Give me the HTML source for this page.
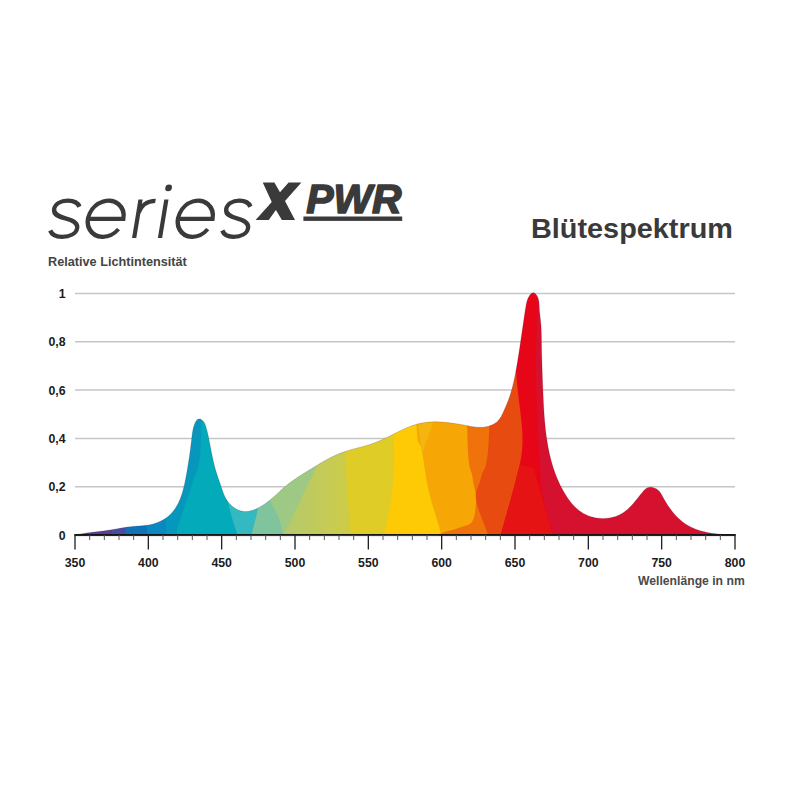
<!DOCTYPE html>
<html><head><meta charset="utf-8">
<style>
html,body{margin:0;padding:0;background:#fff;}
body{width:800px;height:800px;position:relative;overflow:hidden;font-family:"Liberation Sans",sans-serif;}
svg{position:absolute;left:0;top:0;}
.t{position:absolute;white-space:nowrap;font-weight:bold;transform-origin:0 0;line-height:1;}
</style></head><body>
<svg width="800" height="800" viewBox="0 0 800 800">
<defs>
<linearGradient id="spec" gradientUnits="userSpaceOnUse" x1="75" y1="0" x2="735" y2="0"><stop offset="0.0000" stop-color="#5d3c8e"/><stop offset="0.0606" stop-color="#4f4596"/><stop offset="0.0909" stop-color="#34529f"/><stop offset="0.1136" stop-color="#1f66ad"/><stop offset="0.1439" stop-color="#1a85b6"/><stop offset="0.1818" stop-color="#0e9db5"/><stop offset="0.2273" stop-color="#14a8b8"/><stop offset="0.2500" stop-color="#38b4bd"/><stop offset="0.2773" stop-color="#6cbcae"/><stop offset="0.3030" stop-color="#98c38c"/><stop offset="0.3409" stop-color="#b9c766"/><stop offset="0.3864" stop-color="#c9c94e"/><stop offset="0.4318" stop-color="#d8ca3a"/><stop offset="0.4697" stop-color="#e9c924"/><stop offset="0.4924" stop-color="#fac80a"/><stop offset="0.5227" stop-color="#f5b20c"/><stop offset="0.5530" stop-color="#f4a510"/><stop offset="0.5909" stop-color="#f29a12"/><stop offset="0.5985" stop-color="#ee7d12"/><stop offset="0.6318" stop-color="#e85e19"/><stop offset="0.6742" stop-color="#e8351a"/><stop offset="0.6818" stop-color="#e3061d"/><stop offset="0.7348" stop-color="#e0101e"/><stop offset="0.7955" stop-color="#d6102f"/><stop offset="1.0076" stop-color="#d40f35"/></linearGradient>
<clipPath id="clip"><path d="M75.00,535.00 L75.75,534.85 L76.50,534.70 L77.25,534.55 L78.00,534.41 L78.75,534.27 L79.50,534.14 L80.25,534.01 L81.00,533.88 L81.76,533.76 L82.51,533.64 L83.26,533.52 L84.01,533.41 L84.76,533.29 L85.52,533.18 L86.27,533.08 L87.02,532.97 L87.77,532.87 L88.53,532.77 L89.28,532.67 L90.03,532.57 L90.79,532.47 L91.54,532.37 L92.29,532.28 L93.05,532.19 L93.80,532.09 L94.56,532.00 L95.31,531.91 L96.06,531.82 L96.82,531.72 L97.57,531.63 L98.33,531.54 L99.08,531.45 L99.84,531.35 L100.59,531.26 L101.34,531.17 L102.10,531.07 L102.85,530.97 L103.61,530.88 L104.36,530.78 L105.12,530.68 L105.87,530.57 L106.63,530.47 L107.38,530.36 L108.14,530.26 L108.89,530.14 L109.65,530.03 L110.40,529.92 L111.16,529.80 L111.91,529.67 L112.67,529.55 L113.42,529.42 L114.17,529.29 L114.93,529.16 L115.68,529.03 L116.44,528.90 L117.19,528.77 L117.95,528.63 L118.70,528.50 L119.45,528.36 L120.21,528.23 L120.96,528.10 L121.72,527.97 L122.47,527.84 L123.22,527.71 L123.98,527.59 L124.73,527.47 L125.48,527.35 L126.24,527.23 L126.99,527.12 L127.74,527.01 L128.49,526.91 L129.25,526.81 L130.00,526.72 L130.75,526.63 L131.50,526.55 L132.25,526.47 L133.01,526.40 L133.76,526.34 L134.51,526.28 L135.26,526.22 L136.01,526.16 L136.76,526.11 L137.51,526.06 L138.26,526.01 L139.01,525.96 L139.76,525.91 L140.51,525.86 L141.26,525.80 L142.01,525.74 L142.76,525.68 L143.51,525.61 L144.25,525.54 L145.00,525.46 L145.75,525.37 L146.50,525.28 L147.25,525.18 L148.00,525.06 L148.75,524.94 L149.49,524.81 L150.24,524.66 L150.99,524.50 L151.74,524.33 L152.49,524.15 L153.23,523.95 L153.98,523.73 L154.73,523.51 L155.47,523.26 L156.21,523.01 L156.95,522.74 L157.68,522.45 L158.41,522.15 L159.13,521.84 L159.85,521.52 L160.56,521.18 L161.26,520.83 L161.96,520.47 L162.64,520.09 L163.32,519.71 L163.99,519.31 L164.65,518.90 L165.29,518.47 L165.93,518.04 L166.55,517.59 L167.16,517.14 L167.75,516.67 L168.34,516.19 L168.90,515.70 L169.46,515.20 L170.00,514.69 L170.54,514.17 L171.05,513.64 L171.56,513.10 L172.06,512.55 L172.54,511.99 L173.01,511.42 L173.47,510.84 L173.92,510.26 L174.36,509.67 L174.79,509.06 L175.21,508.45 L175.61,507.84 L176.01,507.21 L176.40,506.58 L176.77,505.94 L177.14,505.29 L177.50,504.64 L177.85,503.98 L178.19,503.31 L178.52,502.64 L178.84,501.96 L179.15,501.28 L179.46,500.59 L179.76,499.89 L180.05,499.19 L180.33,498.49 L180.60,497.78 L180.87,497.06 L181.13,496.34 L181.38,495.62 L181.63,494.89 L181.87,494.16 L182.11,493.43 L182.33,492.69 L182.55,491.95 L182.77,491.20 L182.98,490.46 L183.19,489.71 L183.39,488.96 L183.58,488.20 L183.77,487.45 L183.96,486.69 L184.14,485.93 L184.31,485.17 L184.49,484.41 L184.66,483.65 L184.82,482.89 L184.98,482.13 L185.14,481.36 L185.30,480.60 L185.45,479.84 L185.60,479.07 L185.75,478.31 L185.89,477.55 L186.04,476.79 L186.18,476.03 L186.32,475.27 L186.45,474.51 L186.59,473.76 L186.73,473.01 L186.86,472.25 L186.99,471.50 L187.12,470.75 L187.25,470.01 L187.38,469.26 L187.51,468.51 L187.63,467.77 L187.76,467.03 L187.88,466.28 L188.00,465.54 L188.13,464.80 L188.24,464.06 L188.36,463.32 L188.48,462.58 L188.60,461.84 L188.71,461.10 L188.82,460.36 L188.94,459.63 L189.05,458.89 L189.16,458.15 L189.27,457.41 L189.38,456.67 L189.48,455.93 L189.59,455.20 L189.69,454.46 L189.80,453.72 L189.90,452.98 L190.00,452.23 L190.10,451.49 L190.20,450.75 L190.30,450.01 L190.40,449.26 L190.50,448.52 L190.60,447.77 L190.69,447.02 L190.79,446.27 L190.88,445.52 L190.97,444.77 L191.06,444.02 L191.16,443.26 L191.25,442.51 L191.34,441.75 L191.43,440.99 L191.51,440.23 L191.60,439.47 L191.69,438.70 L191.77,437.93 L191.86,437.16 L191.95,436.39 L192.04,435.62 L192.13,434.85 L192.23,434.07 L192.34,433.30 L192.45,432.53 L192.57,431.76 L192.71,430.99 L192.85,430.22 L193.01,429.45 L193.18,428.69 L193.36,427.93 L193.56,427.17 L193.78,426.42 L194.02,425.67 L194.28,424.93 L194.56,424.19 L194.86,423.46 L195.19,422.73 L195.54,422.02 L195.92,421.34 L196.33,420.71 L196.78,420.15 L197.26,419.67 L197.78,419.30 L198.34,419.04 L198.94,418.93 L199.58,418.95 L200.23,419.10 L200.90,419.36 L201.55,419.72 L202.17,420.16 L202.75,420.68 L203.28,421.26 L203.76,421.89 L204.18,422.57 L204.56,423.28 L204.91,424.02 L205.22,424.79 L205.51,425.57 L205.77,426.35 L206.02,427.13 L206.25,427.91 L206.48,428.67 L206.69,429.43 L206.89,430.19 L207.09,430.93 L207.28,431.67 L207.46,432.41 L207.63,433.15 L207.80,433.88 L207.96,434.61 L208.12,435.33 L208.27,436.06 L208.42,436.78 L208.57,437.51 L208.71,438.24 L208.86,438.97 L209.00,439.70 L209.15,440.43 L209.29,441.16 L209.43,441.90 L209.57,442.64 L209.72,443.38 L209.86,444.12 L210.00,444.86 L210.14,445.60 L210.28,446.35 L210.43,447.09 L210.57,447.84 L210.71,448.58 L210.86,449.33 L211.00,450.08 L211.15,450.83 L211.30,451.58 L211.45,452.33 L211.60,453.08 L211.75,453.83 L211.90,454.58 L212.06,455.33 L212.21,456.08 L212.37,456.83 L212.53,457.58 L212.69,458.32 L212.86,459.07 L213.02,459.82 L213.19,460.57 L213.37,461.32 L213.54,462.06 L213.72,462.81 L213.90,463.55 L214.08,464.29 L214.27,465.04 L214.46,465.78 L214.65,466.52 L214.85,467.25 L215.05,467.99 L215.26,468.72 L215.46,469.46 L215.68,470.19 L215.89,470.92 L216.11,471.64 L216.34,472.37 L216.57,473.09 L216.80,473.82 L217.03,474.54 L217.26,475.26 L217.50,475.98 L217.74,476.70 L217.98,477.41 L218.23,478.13 L218.47,478.85 L218.71,479.57 L218.96,480.28 L219.21,481.00 L219.45,481.72 L219.70,482.43 L219.95,483.15 L220.19,483.87 L220.44,484.59 L220.68,485.31 L220.92,486.03 L221.16,486.75 L221.40,487.47 L221.64,488.20 L221.88,488.92 L222.13,489.64 L222.37,490.36 L222.62,491.08 L222.88,491.80 L223.14,492.51 L223.41,493.22 L223.69,493.93 L223.98,494.63 L224.28,495.33 L224.59,496.02 L224.92,496.71 L225.26,497.39 L225.62,498.06 L225.99,498.73 L226.38,499.39 L226.79,500.04 L227.22,500.68 L227.67,501.31 L228.14,501.93 L228.63,502.54 L229.14,503.14 L229.66,503.72 L230.20,504.29 L230.75,504.84 L231.32,505.38 L231.90,505.90 L232.50,506.40 L233.11,506.89 L233.73,507.35 L234.36,507.80 L235.00,508.22 L235.65,508.62 L236.32,509.00 L236.99,509.35 L237.67,509.68 L238.35,509.99 L239.04,510.26 L239.74,510.51 L240.44,510.74 L241.15,510.93 L241.86,511.09 L242.58,511.23 L243.29,511.33 L244.01,511.40 L244.73,511.44 L245.45,511.46 L246.18,511.45 L246.90,511.41 L247.63,511.34 L248.36,511.25 L249.08,511.14 L249.81,511.00 L250.53,510.84 L251.26,510.66 L251.98,510.46 L252.71,510.24 L253.43,510.00 L254.15,509.74 L254.86,509.46 L255.58,509.16 L256.29,508.85 L257.00,508.53 L257.70,508.18 L258.40,507.83 L259.10,507.46 L259.79,507.08 L260.48,506.69 L261.16,506.28 L261.84,505.87 L262.51,505.45 L263.18,505.02 L263.84,504.58 L264.49,504.14 L265.13,503.69 L265.77,503.23 L266.41,502.77 L267.03,502.31 L267.65,501.84 L268.26,501.36 L268.87,500.88 L269.48,500.40 L270.07,499.92 L270.67,499.43 L271.25,498.94 L271.84,498.44 L272.42,497.95 L273.00,497.45 L273.57,496.95 L274.14,496.44 L274.71,495.94 L275.27,495.43 L275.84,494.93 L276.40,494.42 L276.96,493.91 L277.52,493.41 L278.07,492.90 L278.63,492.39 L279.19,491.88 L279.74,491.38 L280.30,490.87 L280.85,490.37 L281.41,489.86 L281.97,489.36 L282.53,488.86 L283.09,488.37 L283.65,487.87 L284.22,487.38 L284.79,486.89 L285.36,486.40 L285.93,485.92 L286.51,485.44 L287.09,484.97 L287.67,484.50 L288.26,484.03 L288.86,483.57 L289.45,483.11 L290.05,482.66 L290.65,482.21 L291.26,481.76 L291.87,481.31 L292.48,480.87 L293.10,480.43 L293.72,480.00 L294.34,479.57 L294.96,479.14 L295.59,478.71 L296.22,478.29 L296.85,477.87 L297.49,477.45 L298.12,477.03 L298.76,476.61 L299.40,476.20 L300.04,475.79 L300.69,475.38 L301.33,474.97 L301.98,474.56 L302.63,474.15 L303.28,473.75 L303.93,473.34 L304.58,472.94 L305.23,472.54 L305.88,472.13 L306.54,471.73 L307.19,471.33 L307.84,470.93 L308.50,470.52 L309.15,470.12 L309.81,469.72 L310.47,469.31 L311.12,468.91 L311.78,468.51 L312.43,468.10 L313.09,467.70 L313.74,467.29 L314.40,466.89 L315.05,466.49 L315.71,466.09 L316.37,465.68 L317.03,465.28 L317.68,464.88 L318.34,464.49 L319.00,464.09 L319.66,463.69 L320.32,463.30 L320.98,462.91 L321.64,462.52 L322.31,462.13 L322.97,461.75 L323.63,461.36 L324.30,460.98 L324.97,460.61 L325.63,460.23 L326.30,459.86 L326.97,459.50 L327.65,459.13 L328.32,458.77 L328.99,458.41 L329.67,458.06 L330.35,457.71 L331.02,457.37 L331.70,457.03 L332.39,456.69 L333.07,456.36 L333.76,456.03 L334.44,455.71 L335.13,455.39 L335.82,455.08 L336.52,454.78 L337.21,454.48 L337.91,454.18 L338.61,453.89 L339.31,453.61 L340.01,453.34 L340.72,453.07 L341.43,452.80 L342.14,452.54 L342.85,452.29 L343.56,452.04 L344.28,451.80 L345.00,451.56 L345.72,451.33 L346.44,451.10 L347.16,450.88 L347.88,450.66 L348.61,450.44 L349.33,450.22 L350.06,450.01 L350.79,449.80 L351.52,449.60 L352.25,449.39 L352.98,449.19 L353.71,448.99 L354.45,448.79 L355.18,448.60 L355.91,448.40 L356.65,448.20 L357.38,448.01 L358.11,447.81 L358.85,447.62 L359.58,447.42 L360.32,447.22 L361.05,447.02 L361.78,446.82 L362.52,446.62 L363.25,446.42 L363.98,446.22 L364.72,446.01 L365.45,445.80 L366.18,445.59 L366.91,445.38 L367.63,445.16 L368.36,444.94 L369.09,444.71 L369.81,444.48 L370.54,444.25 L371.26,444.01 L371.98,443.77 L372.70,443.52 L373.42,443.27 L374.13,443.01 L374.85,442.74 L375.56,442.47 L376.27,442.20 L376.98,441.91 L377.68,441.62 L378.39,441.33 L379.09,441.03 L379.79,440.73 L380.49,440.42 L381.19,440.11 L381.89,439.80 L382.58,439.48 L383.28,439.15 L383.97,438.83 L384.67,438.50 L385.36,438.17 L386.05,437.83 L386.74,437.50 L387.43,437.16 L388.12,436.82 L388.80,436.47 L389.49,436.13 L390.18,435.79 L390.86,435.44 L391.55,435.09 L392.24,434.75 L392.92,434.40 L393.61,434.05 L394.29,433.71 L394.98,433.36 L395.66,433.02 L396.35,432.67 L397.03,432.33 L397.72,431.99 L398.40,431.65 L399.09,431.31 L399.78,430.98 L400.46,430.64 L401.15,430.31 L401.84,429.99 L402.53,429.66 L403.22,429.34 L403.91,429.03 L404.60,428.71 L405.29,428.41 L405.99,428.10 L406.68,427.80 L407.38,427.51 L408.08,427.22 L408.78,426.94 L409.48,426.66 L410.18,426.39 L410.88,426.12 L411.59,425.86 L412.29,425.61 L413.00,425.36 L413.71,425.12 L414.42,424.89 L415.14,424.66 L415.85,424.45 L416.57,424.24 L417.29,424.04 L418.01,423.85 L418.74,423.66 L419.47,423.49 L420.19,423.33 L420.93,423.17 L421.66,423.02 L422.40,422.89 L423.14,422.76 L423.88,422.64 L424.62,422.53 L425.37,422.43 L426.11,422.33 L426.86,422.25 L427.61,422.17 L428.37,422.10 L429.12,422.04 L429.88,421.98 L430.63,421.94 L431.39,421.90 L432.15,421.87 L432.91,421.84 L433.68,421.82 L434.44,421.81 L435.20,421.81 L435.97,421.81 L436.74,421.82 L437.50,421.83 L438.27,421.85 L439.04,421.88 L439.81,421.91 L440.58,421.95 L441.35,421.99 L442.12,422.04 L442.89,422.10 L443.66,422.16 L444.44,422.22 L445.21,422.29 L445.98,422.36 L446.75,422.44 L447.52,422.52 L448.29,422.61 L449.06,422.70 L449.83,422.80 L450.60,422.89 L451.37,423.00 L452.14,423.10 L452.91,423.21 L453.68,423.32 L454.44,423.44 L455.21,423.56 L455.97,423.68 L456.74,423.80 L457.50,423.93 L458.26,424.06 L459.02,424.19 L459.78,424.32 L460.54,424.45 L461.29,424.59 L462.05,424.73 L462.80,424.87 L463.55,425.01 L464.30,425.15 L465.05,425.30 L465.79,425.44 L466.54,425.58 L467.28,425.73 L468.02,425.87 L468.76,426.01 L469.49,426.15 L470.23,426.28 L470.97,426.41 L471.70,426.54 L472.43,426.66 L473.17,426.77 L473.90,426.87 L474.63,426.97 L475.37,427.05 L476.10,427.13 L476.83,427.19 L477.57,427.25 L478.30,427.29 L479.04,427.32 L479.77,427.33 L480.51,427.33 L481.25,427.31 L481.99,427.28 L482.73,427.23 L483.47,427.16 L484.21,427.08 L484.96,426.97 L485.71,426.85 L486.46,426.70 L487.21,426.53 L487.97,426.34 L488.72,426.13 L489.48,425.89 L490.25,425.62 L491.01,425.33 L491.77,425.02 L492.52,424.68 L493.26,424.32 L493.98,423.93 L494.67,423.52 L495.34,423.09 L495.97,422.63 L496.57,422.16 L497.14,421.66 L497.68,421.14 L498.20,420.61 L498.69,420.05 L499.15,419.48 L499.59,418.90 L500.02,418.30 L500.42,417.69 L500.81,417.06 L501.18,416.43 L501.54,415.78 L501.89,415.12 L502.22,414.46 L502.55,413.79 L502.87,413.11 L503.19,412.42 L503.50,411.74 L503.81,411.04 L504.11,410.35 L504.42,409.65 L504.73,408.96 L505.04,408.26 L505.34,407.56 L505.65,406.86 L505.95,406.15 L506.25,405.45 L506.55,404.74 L506.85,404.03 L507.14,403.32 L507.43,402.61 L507.71,401.90 L507.99,401.18 L508.27,400.47 L508.53,399.75 L508.80,399.03 L509.06,398.31 L509.31,397.59 L509.56,396.87 L509.80,396.14 L510.04,395.42 L510.27,394.69 L510.50,393.96 L510.73,393.23 L510.95,392.50 L511.16,391.77 L511.38,391.04 L511.58,390.31 L511.79,389.57 L511.99,388.84 L512.18,388.10 L512.38,387.36 L512.57,386.63 L512.75,385.89 L512.93,385.15 L513.11,384.41 L513.29,383.67 L513.46,382.93 L513.63,382.19 L513.80,381.44 L513.96,380.70 L514.12,379.96 L514.28,379.21 L514.44,378.47 L514.59,377.72 L514.75,376.97 L514.90,376.23 L515.04,375.48 L515.19,374.74 L515.33,373.99 L515.48,373.24 L515.62,372.49 L515.76,371.75 L515.90,371.00 L516.03,370.25 L516.17,369.50 L516.30,368.75 L516.44,368.01 L516.57,367.26 L516.70,366.51 L516.83,365.76 L516.96,365.01 L517.09,364.26 L517.22,363.51 L517.34,362.76 L517.47,362.02 L517.59,361.27 L517.72,360.52 L517.84,359.77 L517.96,359.02 L518.08,358.27 L518.20,357.52 L518.32,356.77 L518.44,356.02 L518.56,355.27 L518.68,354.52 L518.80,353.77 L518.91,353.02 L519.03,352.27 L519.15,351.52 L519.26,350.77 L519.37,350.02 L519.49,349.27 L519.60,348.52 L519.71,347.77 L519.83,347.01 L519.94,346.26 L520.05,345.51 L520.16,344.76 L520.27,344.01 L520.38,343.26 L520.49,342.51 L520.60,341.75 L520.71,341.00 L520.82,340.25 L520.93,339.50 L521.04,338.74 L521.15,337.99 L521.26,337.24 L521.37,336.49 L521.48,335.73 L521.59,334.98 L521.69,334.23 L521.80,333.47 L521.91,332.72 L522.02,331.97 L522.13,331.21 L522.24,330.46 L522.35,329.70 L522.46,328.95 L522.57,328.19 L522.68,327.44 L522.79,326.68 L522.90,325.93 L523.01,325.17 L523.12,324.42 L523.23,323.66 L523.34,322.91 L523.45,322.15 L523.56,321.40 L523.67,320.64 L523.79,319.88 L523.90,319.13 L524.01,318.37 L524.13,317.61 L524.24,316.86 L524.36,316.10 L524.47,315.34 L524.59,314.58 L524.71,313.83 L524.82,313.07 L524.94,312.31 L525.06,311.55 L525.18,310.79 L525.30,310.03 L525.42,309.27 L525.54,308.51 L525.67,307.76 L525.79,307.00 L525.91,306.24 L526.05,305.48 L526.18,304.72 L526.33,303.97 L526.49,303.21 L526.66,302.47 L526.85,301.72 L527.06,300.98 L527.30,300.25 L527.55,299.52 L527.84,298.80 L528.15,298.09 L528.49,297.38 L528.87,296.68 L529.29,296.00 L529.74,295.32 L530.23,294.69 L530.75,294.11 L531.29,293.60 L531.85,293.20 L532.42,292.92 L533.01,292.79 L533.60,292.82 L534.19,293.00 L534.77,293.32 L535.33,293.76 L535.87,294.28 L536.37,294.88 L536.83,295.53 L537.24,296.22 L537.59,296.93 L537.90,297.65 L538.16,298.39 L538.39,299.15 L538.57,299.91 L538.72,300.69 L538.85,301.48 L538.95,302.28 L539.03,303.08 L539.09,303.88 L539.14,304.68 L539.18,305.49 L539.22,306.29 L539.26,307.09 L539.30,307.88 L539.35,308.67 L539.40,309.44 L539.46,310.22 L539.52,310.98 L539.59,311.75 L539.66,312.50 L539.74,313.26 L539.82,314.01 L539.90,314.75 L539.98,315.50 L540.06,316.24 L540.15,316.98 L540.23,317.72 L540.31,318.45 L540.40,319.19 L540.48,319.93 L540.56,320.66 L540.63,321.40 L540.71,322.14 L540.78,322.88 L540.85,323.63 L540.91,324.37 L540.97,325.12 L541.02,325.87 L541.07,326.63 L541.11,327.39 L541.16,328.15 L541.19,328.91 L541.23,329.67 L541.26,330.44 L541.28,331.21 L541.31,331.98 L541.33,332.75 L541.35,333.52 L541.37,334.30 L541.39,335.07 L541.40,335.85 L541.41,336.62 L541.42,337.40 L541.44,338.17 L541.45,338.95 L541.46,339.72 L541.47,340.50 L541.48,341.27 L541.49,342.04 L541.50,342.81 L541.51,343.58 L541.52,344.35 L541.53,345.12 L541.54,345.89 L541.56,346.66 L541.57,347.42 L541.58,348.19 L541.60,348.95 L541.61,349.72 L541.63,350.48 L541.64,351.24 L541.66,352.01 L541.68,352.77 L541.69,353.53 L541.71,354.29 L541.73,355.04 L541.75,355.80 L541.76,356.56 L541.78,357.32 L541.80,358.07 L541.82,358.83 L541.84,359.59 L541.86,360.34 L541.88,361.10 L541.90,361.85 L541.92,362.61 L541.95,363.36 L541.97,364.11 L541.99,364.87 L542.01,365.62 L542.04,366.37 L542.06,367.12 L542.08,367.88 L542.11,368.63 L542.13,369.38 L542.15,370.13 L542.18,370.88 L542.20,371.64 L542.23,372.39 L542.26,373.14 L542.28,373.89 L542.31,374.64 L542.33,375.39 L542.36,376.14 L542.39,376.90 L542.42,377.65 L542.44,378.40 L542.47,379.15 L542.50,379.91 L542.53,380.66 L542.56,381.41 L542.58,382.16 L542.61,382.92 L542.64,383.67 L542.67,384.43 L542.70,385.18 L542.73,385.94 L542.76,386.69 L542.79,387.45 L542.82,388.20 L542.85,388.96 L542.88,389.72 L542.91,390.48 L542.94,391.23 L542.98,391.99 L543.01,392.75 L543.04,393.51 L543.07,394.27 L543.10,395.04 L543.14,395.80 L543.17,396.56 L543.20,397.32 L543.24,398.08 L543.27,398.85 L543.31,399.61 L543.35,400.37 L543.38,401.14 L543.42,401.90 L543.46,402.67 L543.50,403.43 L543.54,404.20 L543.58,404.96 L543.62,405.73 L543.66,406.49 L543.70,407.26 L543.75,408.03 L543.79,408.79 L543.84,409.56 L543.88,410.33 L543.93,411.09 L543.98,411.86 L544.03,412.63 L544.08,413.39 L544.14,414.16 L544.19,414.93 L544.25,415.69 L544.30,416.46 L544.36,417.23 L544.42,417.99 L544.48,418.76 L544.54,419.53 L544.61,420.29 L544.67,421.06 L544.74,421.82 L544.81,422.59 L544.88,423.35 L544.95,424.12 L545.02,424.88 L545.10,425.65 L545.18,426.41 L545.25,427.18 L545.33,427.94 L545.42,428.70 L545.50,429.47 L545.59,430.23 L545.68,430.99 L545.77,431.75 L545.86,432.51 L545.95,433.28 L546.05,434.04 L546.15,434.80 L546.25,435.56 L546.35,436.31 L546.46,437.07 L546.57,437.83 L546.68,438.59 L546.79,439.34 L546.91,440.10 L547.02,440.86 L547.14,441.61 L547.26,442.36 L547.39,443.12 L547.52,443.87 L547.65,444.62 L547.78,445.37 L547.91,446.12 L548.05,446.87 L548.19,447.62 L548.34,448.37 L548.48,449.12 L548.63,449.86 L548.78,450.61 L548.94,451.35 L549.10,452.10 L549.26,452.84 L549.42,453.58 L549.59,454.32 L549.76,455.06 L549.93,455.80 L550.11,456.54 L550.29,457.27 L550.47,458.01 L550.66,458.74 L550.85,459.47 L551.04,460.21 L551.24,460.94 L551.44,461.67 L551.64,462.40 L551.84,463.12 L552.05,463.85 L552.27,464.58 L552.48,465.30 L552.71,466.02 L552.93,466.74 L553.16,467.46 L553.39,468.18 L553.62,468.90 L553.86,469.61 L554.11,470.33 L554.35,471.04 L554.60,471.75 L554.86,472.46 L555.12,473.17 L555.38,473.88 L555.65,474.59 L555.92,475.29 L556.19,475.99 L556.47,476.69 L556.75,477.39 L557.04,478.09 L557.33,478.79 L557.63,479.48 L557.93,480.18 L558.23,480.87 L558.54,481.56 L558.85,482.25 L559.17,482.93 L559.49,483.62 L559.82,484.30 L560.15,484.98 L560.48,485.66 L560.82,486.34 L561.17,487.01 L561.52,487.69 L561.87,488.36 L562.23,489.03 L562.59,489.70 L562.96,490.37 L563.34,491.03 L563.71,491.69 L564.10,492.35 L564.49,493.01 L564.88,493.67 L565.28,494.32 L565.68,494.97 L566.09,495.62 L566.50,496.27 L566.92,496.91 L567.35,497.55 L567.78,498.18 L568.22,498.81 L568.66,499.43 L569.11,500.05 L569.57,500.67 L570.03,501.27 L570.50,501.88 L570.97,502.47 L571.45,503.06 L571.94,503.64 L572.44,504.22 L572.94,504.79 L573.45,505.35 L573.97,505.90 L574.49,506.44 L575.02,506.98 L575.56,507.50 L576.11,508.02 L576.66,508.53 L577.22,509.02 L577.79,509.51 L578.37,509.99 L578.96,510.46 L579.56,510.91 L580.16,511.36 L580.77,511.79 L581.39,512.21 L582.02,512.62 L582.66,513.01 L583.31,513.40 L583.97,513.77 L584.63,514.12 L585.31,514.47 L586.00,514.80 L586.69,515.11 L587.39,515.41 L588.10,515.70 L588.82,515.97 L589.55,516.23 L590.28,516.47 L591.02,516.71 L591.77,516.92 L592.52,517.12 L593.28,517.31 L594.04,517.48 L594.81,517.64 L595.58,517.79 L596.35,517.92 L597.13,518.03 L597.91,518.14 L598.69,518.22 L599.48,518.30 L600.26,518.35 L601.05,518.40 L601.84,518.43 L602.63,518.44 L603.41,518.44 L604.20,518.42 L604.99,518.39 L605.77,518.35 L606.55,518.29 L607.33,518.22 L608.11,518.13 L608.89,518.02 L609.66,517.90 L610.42,517.77 L611.18,517.62 L611.94,517.46 L612.69,517.28 L613.44,517.09 L614.18,516.88 L614.91,516.65 L615.64,516.41 L616.36,516.16 L617.07,515.89 L617.77,515.61 L618.47,515.31 L619.15,514.99 L619.82,514.66 L620.49,514.32 L621.14,513.96 L621.79,513.58 L622.43,513.19 L623.05,512.79 L623.67,512.38 L624.28,511.95 L624.88,511.51 L625.47,511.06 L626.06,510.59 L626.63,510.12 L627.20,509.63 L627.76,509.14 L628.32,508.63 L628.87,508.12 L629.41,507.60 L629.94,507.07 L630.47,506.53 L631.00,505.99 L631.51,505.44 L632.03,504.88 L632.53,504.32 L633.04,503.75 L633.54,503.18 L634.03,502.61 L634.52,502.03 L635.01,501.44 L635.49,500.86 L635.97,500.27 L636.45,499.68 L636.93,499.08 L637.40,498.48 L637.88,497.89 L638.36,497.29 L638.83,496.68 L639.31,496.08 L639.80,495.47 L640.28,494.86 L640.77,494.25 L641.26,493.64 L641.76,493.03 L642.27,492.42 L642.78,491.81 L643.30,491.20 L643.84,490.60 L644.38,490.03 L644.95,489.49 L645.53,489.00 L646.14,488.55 L646.78,488.16 L647.45,487.85 L648.14,487.60 L648.86,487.42 L649.59,487.31 L650.34,487.26 L651.10,487.27 L651.86,487.35 L652.62,487.47 L653.38,487.65 L654.12,487.88 L654.85,488.16 L655.56,488.48 L656.25,488.85 L656.91,489.25 L657.53,489.69 L658.11,490.17 L658.66,490.68 L659.17,491.22 L659.65,491.79 L660.11,492.38 L660.54,492.99 L660.95,493.62 L661.35,494.26 L661.73,494.92 L662.10,495.58 L662.47,496.26 L662.83,496.93 L663.20,497.61 L663.57,498.29 L663.95,498.96 L664.33,499.63 L664.71,500.30 L665.10,500.97 L665.50,501.64 L665.90,502.30 L666.30,502.96 L666.71,503.61 L667.12,504.27 L667.54,504.92 L667.97,505.56 L668.40,506.21 L668.83,506.85 L669.27,507.48 L669.72,508.11 L670.17,508.74 L670.62,509.36 L671.09,509.98 L671.55,510.59 L672.02,511.19 L672.50,511.79 L672.99,512.39 L673.47,512.98 L673.97,513.56 L674.47,514.14 L674.97,514.71 L675.49,515.28 L676.00,515.83 L676.53,516.38 L677.06,516.93 L677.59,517.47 L678.13,518.00 L678.68,518.52 L679.23,519.03 L679.79,519.54 L680.36,520.04 L680.93,520.53 L681.50,521.01 L682.09,521.48 L682.68,521.95 L683.27,522.40 L683.88,522.85 L684.49,523.28 L685.10,523.71 L685.72,524.13 L686.35,524.54 L686.99,524.93 L687.63,525.32 L688.28,525.70 L688.93,526.07 L689.59,526.42 L690.26,526.77 L690.93,527.11 L691.61,527.43 L692.30,527.75 L692.99,528.06 L693.68,528.36 L694.38,528.65 L695.09,528.93 L695.80,529.21 L696.51,529.47 L697.23,529.73 L697.95,529.97 L698.68,530.21 L699.41,530.45 L700.15,530.67 L700.88,530.89 L701.63,531.09 L702.37,531.29 L703.12,531.49 L703.87,531.67 L704.62,531.85 L705.38,532.03 L706.13,532.19 L706.89,532.35 L707.66,532.51 L708.42,532.65 L709.19,532.79 L709.95,532.93 L710.72,533.06 L711.49,533.18 L712.26,533.30 L713.03,533.41 L713.80,533.52 L714.58,533.62 L715.35,533.72 L716.12,533.81 L716.89,533.90 L717.67,533.98 L718.44,534.06 L719.21,534.14 L719.98,534.21 L720.75,534.28 L721.52,534.34 L722.28,534.40 L723.05,534.46 L723.81,534.51 L724.58,534.56 L725.34,534.60 L726.10,534.65 L726.85,534.69 L727.61,534.73 L728.36,534.76 L729.10,534.80 L729.85,534.83 L730.59,534.86 L731.33,534.89 L732.07,534.91 L732.80,534.94 L733.52,534.96 L734.25,534.98 L735.00,535.00 L735,536 L75,536 Z"/></clipPath>
</defs>
<g id="grid"><line x1="75" y1="293.50" x2="735" y2="293.50" stroke="#c6c6c6" stroke-width="1.5"/><line x1="75" y1="341.80" x2="735" y2="341.80" stroke="#c6c6c6" stroke-width="1.5"/><line x1="75" y1="390.10" x2="735" y2="390.10" stroke="#c6c6c6" stroke-width="1.5"/><line x1="75" y1="438.40" x2="735" y2="438.40" stroke="#c6c6c6" stroke-width="1.5"/><line x1="75" y1="486.70" x2="735" y2="486.70" stroke="#c6c6c6" stroke-width="1.5"/></g>
<g clip-path="url(#clip)"><g style="opacity:0.999"><defs><linearGradient id="gYG" gradientUnits="userSpaceOnUse" x1="290" y1="0" x2="345" y2="0"><stop offset="0" stop-color="#b6c96a"/><stop offset="1" stop-color="#cdcc4a"/></linearGradient></defs><polygon fill="#5b3d94" points="60,280 60,540 800,540 800,280"/><polygon fill="#4a4c9f" points="112,280 112,540 800,540 800,280"/><polygon fill="#1272b8" points="126,280 126,540 800,540 800,280"/><polygon fill="#0a88bf" points="147,280 147,540 800,540 800,280"/><polygon fill="#0598bc" points="166,280 166,540 800,540 800,280"/><polygon fill="#03aab9" points="199.0,280.0 199.13,288.1 199.34,298.75 199.62,311.47 199.93,325.78 200.25,341.2 200.56,357.25 200.85,373.45 201.07,389.33 201.23,404.41 201.28,418.19 201.21,430.22 201.0,440.0 200.63,447.81 200.1,454.35 199.45,459.77 198.7,464.22 197.88,467.87 197.0,470.88 196.09,473.38 195.19,475.56 194.3,477.55 193.45,479.51 192.68,481.61 192.0,484.0 191.4,486.39 190.85,488.42 190.34,490.16 189.85,491.67 189.39,492.99 188.94,494.19 188.49,495.32 188.04,496.44 187.57,497.62 187.08,498.9 186.56,500.34 186.0,502.0 185.38,503.88 184.71,505.9 184.0,508.04 183.26,510.26 182.5,512.53 181.75,514.81 181.01,517.08 180.3,519.3 179.62,521.43 179.01,523.45 178.46,525.31 178.0,527.0 177.62,528.54 177.3,530.01 177.03,531.4 176.81,532.7 176.64,533.93 176.5,535.06 176.39,536.11 176.3,537.07 176.22,537.95 176.15,538.72 176.08,539.41 176,540 800,540 800,280"/><polygon fill="#33b9bf" points="224.0,480.0 224.28,481.48 224.62,483.33 225.01,485.5 225.44,487.94 225.92,490.6 226.44,493.41 226.98,496.32 227.56,499.28 228.15,502.23 228.76,505.12 229.38,507.9 230.0,510.5 230.67,513.09 231.43,515.82 232.25,518.64 233.11,521.5 233.99,524.36 234.88,527.16 235.74,529.85 236.56,532.39 237.31,534.72 237.99,536.8 238.56,538.58 239,540 800,540 800,280"/><polygon fill="#80c49e" points="261.0,490.0 260.82,491.1 260.6,492.46 260.35,494.04 260.07,495.81 259.77,497.75 259.44,499.81 259.08,501.97 258.7,504.19 258.3,506.43 257.89,508.67 257.45,510.87 257.0,513.0 256.5,515.2 255.93,517.58 255.3,520.1 254.63,522.7 253.94,525.33 253.25,527.94 252.57,530.46 251.93,532.85 251.33,535.05 250.8,537.02 250.35,538.68 250,540 800,540 800,280"/><polygon fill="#9ec985" points="266.0,480.0 266.18,480.97 266.38,482.2 266.6,483.64 266.85,485.26 267.13,487.02 267.44,488.88 267.78,490.8 268.15,492.74 268.55,494.67 269.0,496.55 269.48,498.34 270.0,500.0 270.59,501.57 271.27,503.13 272.02,504.66 272.81,506.19 273.65,507.69 274.5,509.19 275.35,510.67 276.19,512.15 276.98,513.62 277.73,515.08 278.41,516.54 279.0,518.0 279.52,519.49 280.0,521.03 280.45,522.6 280.85,524.19 281.22,525.76 281.56,527.31 281.87,528.82 282.15,530.26 282.4,531.62 282.62,532.87 282.82,534.01 283.0,535.0 283.14,535.85 283.23,536.59 283.28,537.21 283.3,537.74 283.28,538.19 283.25,538.56 283.2,538.88 283.15,539.15 283.09,539.38 283.05,539.59 283.01,539.8 283,540 800,540 800,280"/><polygon fill="url(#gYG)" points="325.0,445.0 324.64,445.97 324.29,447.0 323.92,448.12 323.52,449.37 323.05,450.78 322.5,452.38 321.84,454.2 321.04,456.3 320.08,458.69 318.94,461.41 317.58,464.5 316.0,468.0 314.04,472.19 311.64,477.21 308.89,482.88 305.89,489.04 302.73,495.49 299.5,502.06 296.3,508.58 293.22,514.85 290.36,520.71 287.81,525.97 285.65,530.46 284.0,534.0 282.83,536.62 282.03,538.54 281.55,539.86 281.33,540.67 281.34,541.06 281.5,541.12 281.78,540.96 282.11,540.67 282.45,540.33 282.75,540.04 282.95,539.9 283,540 800,540 800,280"/><polygon fill="#dfcc26" points="345.0,280.0 344.98,287.92 344.93,298.1 344.86,310.16 344.78,323.7 344.7,338.36 344.62,353.75 344.57,369.48 344.56,385.19 344.58,400.47 344.65,414.95 344.79,428.26 345.0,440.0 345.31,450.75 345.72,461.3 346.22,471.56 346.78,481.48 347.38,490.98 348.0,500.0 348.62,508.46 349.22,516.3 349.78,523.44 350.28,529.81 350.69,535.36 351,540 800,540 800,280"/><polygon fill="#fdca05" points="393.0,280.0 393.06,287.7 393.14,297.76 393.24,309.74 393.35,323.22 393.47,337.76 393.59,352.94 393.71,368.31 393.81,383.44 393.9,397.91 393.97,411.28 394.0,423.12 394.0,433.0 393.98,441.16 393.96,448.23 393.94,454.35 393.91,459.67 393.86,464.32 393.78,468.44 393.68,472.17 393.54,475.67 393.36,479.05 393.13,482.48 392.84,486.08 392.5,490.0 392.06,494.13 391.52,498.26 390.89,502.35 390.2,506.37 389.47,510.29 388.72,514.06 387.97,517.67 387.24,521.07 386.56,524.24 385.94,527.14 385.42,529.74 385.0,532.0 384.69,533.88 384.45,535.39 384.27,536.58 384.15,537.48 384.07,538.15 384.03,538.62 384.02,538.96 384.02,539.19 384.03,539.36 384.03,539.52 384.03,539.72 384,540 800,540 800,280"/><polygon fill="#f6a706" points="416.5,280.0 416.48,287.34 416.44,297.04 416.38,308.65 416.31,321.72 416.23,335.79 416.17,350.41 416.13,365.11 416.11,379.44 416.13,392.96 416.2,405.19 416.32,415.69 416.5,424.0 416.75,430.23 417.05,434.93 417.41,438.36 417.81,440.72 418.24,442.27 418.7,443.22 419.19,443.81 419.69,444.28 420.21,444.85 420.73,445.75 421.24,447.23 421.75,449.5 422.24,452.35 422.73,455.36 423.21,458.54 423.69,461.83 424.19,465.24 424.7,468.72 425.24,472.26 425.81,475.83 426.41,479.42 427.05,482.99 427.75,486.52 428.5,490.0 429.35,493.56 430.33,497.31 431.4,501.19 432.54,505.15 433.71,509.12 434.89,513.03 436.05,516.83 437.16,520.46 438.19,523.86 439.1,526.95 439.89,529.69 440.5,532.0 440.95,533.88 441.25,535.39 441.45,536.58 441.54,537.48 441.55,538.15 441.5,538.62 441.41,538.96 441.3,539.19 441.18,539.36 441.08,539.52 441.01,539.72 441,540 800,540 800,280"/><polygon fill="#ef720a" points="467.0,280.0 467.01,288.12 467.0,298.83 466.98,311.62 466.96,326.02 466.95,341.53 466.94,357.66 466.95,373.92 466.98,389.81 467.05,404.86 467.15,418.57 467.3,430.45 467.5,440.0 467.76,447.46 468.09,453.52 468.47,458.36 468.89,462.17 469.34,465.12 469.81,467.41 470.3,469.21 470.78,470.72 471.25,472.12 471.7,473.59 472.12,475.33 472.5,477.5 472.87,479.85 473.25,482.0 473.64,483.99 474.04,485.83 474.42,487.57 474.78,489.22 475.11,490.82 475.41,492.39 475.65,493.96 475.84,495.57 475.96,497.24 476.0,499.0 475.98,500.87 475.93,502.82 475.83,504.83 475.69,506.87 475.49,508.92 475.25,510.94 474.95,512.91 474.59,514.8 474.17,516.58 473.69,518.22 473.13,519.71 472.5,521.0 471.8,522.08 471.02,522.98 470.18,523.71 469.28,524.31 468.31,524.81 467.28,525.22 466.2,525.58 465.06,525.91 463.86,526.24 462.62,526.6 461.33,527.01 460.0,527.5 458.53,528.04 456.87,528.59 455.06,529.14 453.15,529.69 451.19,530.23 449.22,530.78 447.3,531.33 445.46,531.87 443.77,532.41 442.26,532.95 440.99,533.48 440.0,534.0 439.3,534.54 438.84,535.1 438.59,535.68 438.52,536.26 438.58,536.84 438.75,537.41 438.99,537.95 439.26,538.46 439.53,538.93 439.77,539.35 439.94,539.71 440,540 800,540 800,280"/><polygon fill="#e84b10" points="491.0,280.0 490.91,288.12 490.82,298.83 490.72,311.62 490.62,326.02 490.5,341.53 490.36,357.66 490.19,373.92 489.99,389.81 489.75,404.86 489.47,418.57 489.14,430.45 488.75,440.0 488.29,447.46 487.74,453.52 487.13,458.36 486.47,462.17 485.77,465.12 485.05,467.41 484.31,469.21 483.58,470.72 482.87,472.12 482.2,473.59 481.57,475.33 481.0,477.5 480.43,479.81 479.82,481.86 479.17,483.69 478.52,485.36 477.89,486.92 477.3,488.42 476.77,489.91 476.34,491.44 476.03,493.07 475.85,494.84 475.83,496.8 476.0,499.0 476.42,501.52 477.09,504.35 477.97,507.42 479.02,510.66 480.18,513.98 481.41,517.33 482.65,520.62 483.87,523.79 485.01,526.76 486.03,529.45 486.87,531.81 487.5,533.75 487.93,535.29 488.23,536.51 488.41,537.46 488.5,538.18 488.51,538.69 488.47,539.05 488.38,539.28 488.28,539.44 488.17,539.54 488.07,539.65 488.01,539.79 488,540 800,540 800,280"/><polygon fill="#e60617" points="514.0,280.0 514.08,284.41 514.17,290.02 514.25,296.64 514.35,304.07 514.46,312.13 514.59,320.62 514.75,329.36 514.93,338.15 515.14,346.8 515.38,355.12 515.67,362.91 516.0,370.0 516.43,376.62 516.98,383.13 517.64,389.52 518.35,395.79 519.1,401.91 519.84,407.89 520.56,413.71 521.2,419.35 521.75,424.81 522.17,430.08 522.43,435.15 522.5,440.0 522.39,444.54 522.14,448.74 521.76,452.64 521.28,456.3 520.7,459.77 520.03,463.12 519.29,466.41 518.5,469.68 517.66,472.99 516.79,476.4 515.9,479.97 515.0,483.75 514.02,487.84 512.89,492.23 511.65,496.84 510.33,501.57 508.97,506.36 507.59,511.09 506.24,515.7 504.94,520.09 503.74,524.18 502.66,527.88 501.73,531.1 501.0,533.75 500.46,535.82 500.07,537.4 499.81,538.54 499.67,539.31 499.61,539.77 499.62,540.0 499.69,540.05 499.78,540.0 499.88,539.9 499.96,539.83 500.01,539.84 500,540 800,540 800,280"/><polygon fill="#d6102f" points="538.0,280.0 537.89,283.98 537.75,289.11 537.57,295.2 537.37,302.04 537.16,309.43 536.94,317.19 536.72,325.1 536.52,332.96 536.34,340.59 536.18,347.77 536.07,354.3 536.0,360.0 535.98,364.98 535.98,369.53 536.02,373.71 536.07,377.59 536.15,381.23 536.25,384.69 536.36,388.02 536.48,391.3 536.61,394.57 536.74,397.91 536.87,401.36 537.0,405.0 537.13,408.75 537.26,412.5 537.39,416.25 537.54,420.0 537.69,423.75 537.84,427.5 538.01,431.25 538.19,435.0 538.37,438.75 538.57,442.5 538.78,446.25 539.0,450.0 539.22,453.79 539.43,457.63 539.64,461.51 539.85,465.41 540.07,469.31 540.31,473.19 540.58,477.03 540.87,480.81 541.2,484.52 541.58,488.14 542.01,491.64 542.5,495.0 543.08,498.29 543.77,501.57 544.54,504.81 545.37,508.0 546.24,511.11 547.12,514.12 548.0,517.02 548.85,519.78 549.65,522.38 550.37,524.79 551.0,527.01 551.5,529.0 551.89,530.76 552.2,532.29 552.44,533.62 552.61,534.78 552.73,535.77 552.81,536.62 552.86,537.36 552.89,538.0 552.91,538.56 552.92,539.07 552.95,539.54 553,540 800,540 800,280"/><polygon fill="#f6b40e" fill-opacity="1.0" points="416.5,415 436,415 422.5,452.5 421.75,449.5"/><polygon fill="#e51313" fill-opacity="1.0" points="501,534 520,465 533.5,468 553,536 501,536"/></g></g>
<path d="M75.00,535.00 L75.75,534.85 L76.50,534.70 L77.25,534.55 L78.00,534.41 L78.75,534.27 L79.50,534.14 L80.25,534.01 L81.00,533.88 L81.76,533.76 L82.51,533.64 L83.26,533.52 L84.01,533.41 L84.76,533.29 L85.52,533.18 L86.27,533.08 L87.02,532.97 L87.77,532.87 L88.53,532.77 L89.28,532.67 L90.03,532.57 L90.79,532.47 L91.54,532.37 L92.29,532.28 L93.05,532.19 L93.80,532.09 L94.56,532.00 L95.31,531.91 L96.06,531.82 L96.82,531.72 L97.57,531.63 L98.33,531.54 L99.08,531.45 L99.84,531.35 L100.59,531.26 L101.34,531.17 L102.10,531.07 L102.85,530.97 L103.61,530.88 L104.36,530.78 L105.12,530.68 L105.87,530.57 L106.63,530.47 L107.38,530.36 L108.14,530.26 L108.89,530.14 L109.65,530.03 L110.40,529.92 L111.16,529.80 L111.91,529.67 L112.67,529.55 L113.42,529.42 L114.17,529.29 L114.93,529.16 L115.68,529.03 L116.44,528.90 L117.19,528.77 L117.95,528.63 L118.70,528.50 L119.45,528.36 L120.21,528.23 L120.96,528.10 L121.72,527.97 L122.47,527.84 L123.22,527.71 L123.98,527.59 L124.73,527.47 L125.48,527.35 L126.24,527.23 L126.99,527.12 L127.74,527.01 L128.49,526.91 L129.25,526.81 L130.00,526.72 L130.75,526.63 L131.50,526.55 L132.25,526.47 L133.01,526.40 L133.76,526.34 L134.51,526.28 L135.26,526.22 L136.01,526.16 L136.76,526.11 L137.51,526.06 L138.26,526.01 L139.01,525.96 L139.76,525.91 L140.51,525.86 L141.26,525.80 L142.01,525.74 L142.76,525.68 L143.51,525.61 L144.25,525.54 L145.00,525.46 L145.75,525.37 L146.50,525.28 L147.25,525.18 L148.00,525.06 L148.75,524.94 L149.49,524.81 L150.24,524.66 L150.99,524.50 L151.74,524.33 L152.49,524.15 L153.23,523.95 L153.98,523.73 L154.73,523.51 L155.47,523.26 L156.21,523.01 L156.95,522.74 L157.68,522.45 L158.41,522.15 L159.13,521.84 L159.85,521.52 L160.56,521.18 L161.26,520.83 L161.96,520.47 L162.64,520.09 L163.32,519.71 L163.99,519.31 L164.65,518.90 L165.29,518.47 L165.93,518.04 L166.55,517.59 L167.16,517.14 L167.75,516.67 L168.34,516.19 L168.90,515.70 L169.46,515.20 L170.00,514.69 L170.54,514.17 L171.05,513.64 L171.56,513.10 L172.06,512.55 L172.54,511.99 L173.01,511.42 L173.47,510.84 L173.92,510.26 L174.36,509.67 L174.79,509.06 L175.21,508.45 L175.61,507.84 L176.01,507.21 L176.40,506.58 L176.77,505.94 L177.14,505.29 L177.50,504.64 L177.85,503.98 L178.19,503.31 L178.52,502.64 L178.84,501.96 L179.15,501.28 L179.46,500.59 L179.76,499.89 L180.05,499.19 L180.33,498.49 L180.60,497.78 L180.87,497.06 L181.13,496.34 L181.38,495.62 L181.63,494.89 L181.87,494.16 L182.11,493.43 L182.33,492.69 L182.55,491.95 L182.77,491.20 L182.98,490.46 L183.19,489.71 L183.39,488.96 L183.58,488.20 L183.77,487.45 L183.96,486.69 L184.14,485.93 L184.31,485.17 L184.49,484.41 L184.66,483.65 L184.82,482.89 L184.98,482.13 L185.14,481.36 L185.30,480.60 L185.45,479.84 L185.60,479.07 L185.75,478.31 L185.89,477.55 L186.04,476.79 L186.18,476.03 L186.32,475.27 L186.45,474.51 L186.59,473.76 L186.73,473.01 L186.86,472.25 L186.99,471.50 L187.12,470.75 L187.25,470.01 L187.38,469.26 L187.51,468.51 L187.63,467.77 L187.76,467.03 L187.88,466.28 L188.00,465.54 L188.13,464.80 L188.24,464.06 L188.36,463.32 L188.48,462.58 L188.60,461.84 L188.71,461.10 L188.82,460.36 L188.94,459.63 L189.05,458.89 L189.16,458.15 L189.27,457.41 L189.38,456.67 L189.48,455.93 L189.59,455.20 L189.69,454.46 L189.80,453.72 L189.90,452.98 L190.00,452.23 L190.10,451.49 L190.20,450.75 L190.30,450.01 L190.40,449.26 L190.50,448.52 L190.60,447.77 L190.69,447.02 L190.79,446.27 L190.88,445.52 L190.97,444.77 L191.06,444.02 L191.16,443.26 L191.25,442.51 L191.34,441.75 L191.43,440.99 L191.51,440.23 L191.60,439.47 L191.69,438.70 L191.77,437.93 L191.86,437.16 L191.95,436.39 L192.04,435.62 L192.13,434.85 L192.23,434.07 L192.34,433.30 L192.45,432.53 L192.57,431.76 L192.71,430.99 L192.85,430.22 L193.01,429.45 L193.18,428.69 L193.36,427.93 L193.56,427.17 L193.78,426.42 L194.02,425.67 L194.28,424.93 L194.56,424.19 L194.86,423.46 L195.19,422.73 L195.54,422.02 L195.92,421.34 L196.33,420.71 L196.78,420.15 L197.26,419.67 L197.78,419.30 L198.34,419.04 L198.94,418.93 L199.58,418.95 L200.23,419.10 L200.90,419.36 L201.55,419.72 L202.17,420.16 L202.75,420.68 L203.28,421.26 L203.76,421.89 L204.18,422.57 L204.56,423.28 L204.91,424.02 L205.22,424.79 L205.51,425.57 L205.77,426.35 L206.02,427.13 L206.25,427.91 L206.48,428.67 L206.69,429.43 L206.89,430.19 L207.09,430.93 L207.28,431.67 L207.46,432.41 L207.63,433.15 L207.80,433.88 L207.96,434.61 L208.12,435.33 L208.27,436.06 L208.42,436.78 L208.57,437.51 L208.71,438.24 L208.86,438.97 L209.00,439.70 L209.15,440.43 L209.29,441.16 L209.43,441.90 L209.57,442.64 L209.72,443.38 L209.86,444.12 L210.00,444.86 L210.14,445.60 L210.28,446.35 L210.43,447.09 L210.57,447.84 L210.71,448.58 L210.86,449.33 L211.00,450.08 L211.15,450.83 L211.30,451.58 L211.45,452.33 L211.60,453.08 L211.75,453.83 L211.90,454.58 L212.06,455.33 L212.21,456.08 L212.37,456.83 L212.53,457.58 L212.69,458.32 L212.86,459.07 L213.02,459.82 L213.19,460.57 L213.37,461.32 L213.54,462.06 L213.72,462.81 L213.90,463.55 L214.08,464.29 L214.27,465.04 L214.46,465.78 L214.65,466.52 L214.85,467.25 L215.05,467.99 L215.26,468.72 L215.46,469.46 L215.68,470.19 L215.89,470.92 L216.11,471.64 L216.34,472.37 L216.57,473.09 L216.80,473.82 L217.03,474.54 L217.26,475.26 L217.50,475.98 L217.74,476.70 L217.98,477.41 L218.23,478.13 L218.47,478.85 L218.71,479.57 L218.96,480.28 L219.21,481.00 L219.45,481.72 L219.70,482.43 L219.95,483.15 L220.19,483.87 L220.44,484.59 L220.68,485.31 L220.92,486.03 L221.16,486.75 L221.40,487.47 L221.64,488.20 L221.88,488.92 L222.13,489.64 L222.37,490.36 L222.62,491.08 L222.88,491.80 L223.14,492.51 L223.41,493.22 L223.69,493.93 L223.98,494.63 L224.28,495.33 L224.59,496.02 L224.92,496.71 L225.26,497.39 L225.62,498.06 L225.99,498.73 L226.38,499.39 L226.79,500.04 L227.22,500.68 L227.67,501.31 L228.14,501.93 L228.63,502.54 L229.14,503.14 L229.66,503.72 L230.20,504.29 L230.75,504.84 L231.32,505.38 L231.90,505.90 L232.50,506.40 L233.11,506.89 L233.73,507.35 L234.36,507.80 L235.00,508.22 L235.65,508.62 L236.32,509.00 L236.99,509.35 L237.67,509.68 L238.35,509.99 L239.04,510.26 L239.74,510.51 L240.44,510.74 L241.15,510.93 L241.86,511.09 L242.58,511.23 L243.29,511.33 L244.01,511.40 L244.73,511.44 L245.45,511.46 L246.18,511.45 L246.90,511.41 L247.63,511.34 L248.36,511.25 L249.08,511.14 L249.81,511.00 L250.53,510.84 L251.26,510.66 L251.98,510.46 L252.71,510.24 L253.43,510.00 L254.15,509.74 L254.86,509.46 L255.58,509.16 L256.29,508.85 L257.00,508.53 L257.70,508.18 L258.40,507.83 L259.10,507.46 L259.79,507.08 L260.48,506.69 L261.16,506.28 L261.84,505.87 L262.51,505.45 L263.18,505.02 L263.84,504.58 L264.49,504.14 L265.13,503.69 L265.77,503.23 L266.41,502.77 L267.03,502.31 L267.65,501.84 L268.26,501.36 L268.87,500.88 L269.48,500.40 L270.07,499.92 L270.67,499.43 L271.25,498.94 L271.84,498.44 L272.42,497.95 L273.00,497.45 L273.57,496.95 L274.14,496.44 L274.71,495.94 L275.27,495.43 L275.84,494.93 L276.40,494.42 L276.96,493.91 L277.52,493.41 L278.07,492.90 L278.63,492.39 L279.19,491.88 L279.74,491.38 L280.30,490.87 L280.85,490.37 L281.41,489.86 L281.97,489.36 L282.53,488.86 L283.09,488.37 L283.65,487.87 L284.22,487.38 L284.79,486.89 L285.36,486.40 L285.93,485.92 L286.51,485.44 L287.09,484.97 L287.67,484.50 L288.26,484.03 L288.86,483.57 L289.45,483.11 L290.05,482.66 L290.65,482.21 L291.26,481.76 L291.87,481.31 L292.48,480.87 L293.10,480.43 L293.72,480.00 L294.34,479.57 L294.96,479.14 L295.59,478.71 L296.22,478.29 L296.85,477.87 L297.49,477.45 L298.12,477.03 L298.76,476.61 L299.40,476.20 L300.04,475.79 L300.69,475.38 L301.33,474.97 L301.98,474.56 L302.63,474.15 L303.28,473.75 L303.93,473.34 L304.58,472.94 L305.23,472.54 L305.88,472.13 L306.54,471.73 L307.19,471.33 L307.84,470.93 L308.50,470.52 L309.15,470.12 L309.81,469.72 L310.47,469.31 L311.12,468.91 L311.78,468.51 L312.43,468.10 L313.09,467.70 L313.74,467.29 L314.40,466.89 L315.05,466.49 L315.71,466.09 L316.37,465.68 L317.03,465.28 L317.68,464.88 L318.34,464.49 L319.00,464.09 L319.66,463.69 L320.32,463.30 L320.98,462.91 L321.64,462.52 L322.31,462.13 L322.97,461.75 L323.63,461.36 L324.30,460.98 L324.97,460.61 L325.63,460.23 L326.30,459.86 L326.97,459.50 L327.65,459.13 L328.32,458.77 L328.99,458.41 L329.67,458.06 L330.35,457.71 L331.02,457.37 L331.70,457.03 L332.39,456.69 L333.07,456.36 L333.76,456.03 L334.44,455.71 L335.13,455.39 L335.82,455.08 L336.52,454.78 L337.21,454.48 L337.91,454.18 L338.61,453.89 L339.31,453.61 L340.01,453.34 L340.72,453.07 L341.43,452.80 L342.14,452.54 L342.85,452.29 L343.56,452.04 L344.28,451.80 L345.00,451.56 L345.72,451.33 L346.44,451.10 L347.16,450.88 L347.88,450.66 L348.61,450.44 L349.33,450.22 L350.06,450.01 L350.79,449.80 L351.52,449.60 L352.25,449.39 L352.98,449.19 L353.71,448.99 L354.45,448.79 L355.18,448.60 L355.91,448.40 L356.65,448.20 L357.38,448.01 L358.11,447.81 L358.85,447.62 L359.58,447.42 L360.32,447.22 L361.05,447.02 L361.78,446.82 L362.52,446.62 L363.25,446.42 L363.98,446.22 L364.72,446.01 L365.45,445.80 L366.18,445.59 L366.91,445.38 L367.63,445.16 L368.36,444.94 L369.09,444.71 L369.81,444.48 L370.54,444.25 L371.26,444.01 L371.98,443.77 L372.70,443.52 L373.42,443.27 L374.13,443.01 L374.85,442.74 L375.56,442.47 L376.27,442.20 L376.98,441.91 L377.68,441.62 L378.39,441.33 L379.09,441.03 L379.79,440.73 L380.49,440.42 L381.19,440.11 L381.89,439.80 L382.58,439.48 L383.28,439.15 L383.97,438.83 L384.67,438.50 L385.36,438.17 L386.05,437.83 L386.74,437.50 L387.43,437.16 L388.12,436.82 L388.80,436.47 L389.49,436.13 L390.18,435.79 L390.86,435.44 L391.55,435.09 L392.24,434.75 L392.92,434.40 L393.61,434.05 L394.29,433.71 L394.98,433.36 L395.66,433.02 L396.35,432.67 L397.03,432.33 L397.72,431.99 L398.40,431.65 L399.09,431.31 L399.78,430.98 L400.46,430.64 L401.15,430.31 L401.84,429.99 L402.53,429.66 L403.22,429.34 L403.91,429.03 L404.60,428.71 L405.29,428.41 L405.99,428.10 L406.68,427.80 L407.38,427.51 L408.08,427.22 L408.78,426.94 L409.48,426.66 L410.18,426.39 L410.88,426.12 L411.59,425.86 L412.29,425.61 L413.00,425.36 L413.71,425.12 L414.42,424.89 L415.14,424.66 L415.85,424.45 L416.57,424.24 L417.29,424.04 L418.01,423.85 L418.74,423.66 L419.47,423.49 L420.19,423.33 L420.93,423.17 L421.66,423.02 L422.40,422.89 L423.14,422.76 L423.88,422.64 L424.62,422.53 L425.37,422.43 L426.11,422.33 L426.86,422.25 L427.61,422.17 L428.37,422.10 L429.12,422.04 L429.88,421.98 L430.63,421.94 L431.39,421.90 L432.15,421.87 L432.91,421.84 L433.68,421.82 L434.44,421.81 L435.20,421.81 L435.97,421.81 L436.74,421.82 L437.50,421.83 L438.27,421.85 L439.04,421.88 L439.81,421.91 L440.58,421.95 L441.35,421.99 L442.12,422.04 L442.89,422.10 L443.66,422.16 L444.44,422.22 L445.21,422.29 L445.98,422.36 L446.75,422.44 L447.52,422.52 L448.29,422.61 L449.06,422.70 L449.83,422.80 L450.60,422.89 L451.37,423.00 L452.14,423.10 L452.91,423.21 L453.68,423.32 L454.44,423.44 L455.21,423.56 L455.97,423.68 L456.74,423.80 L457.50,423.93 L458.26,424.06 L459.02,424.19 L459.78,424.32 L460.54,424.45 L461.29,424.59 L462.05,424.73 L462.80,424.87 L463.55,425.01 L464.30,425.15 L465.05,425.30 L465.79,425.44 L466.54,425.58 L467.28,425.73 L468.02,425.87 L468.76,426.01 L469.49,426.15 L470.23,426.28 L470.97,426.41 L471.70,426.54 L472.43,426.66 L473.17,426.77 L473.90,426.87 L474.63,426.97 L475.37,427.05 L476.10,427.13 L476.83,427.19 L477.57,427.25 L478.30,427.29 L479.04,427.32 L479.77,427.33 L480.51,427.33 L481.25,427.31 L481.99,427.28 L482.73,427.23 L483.47,427.16 L484.21,427.08 L484.96,426.97 L485.71,426.85 L486.46,426.70 L487.21,426.53 L487.97,426.34 L488.72,426.13 L489.48,425.89 L490.25,425.62 L491.01,425.33 L491.77,425.02 L492.52,424.68 L493.26,424.32 L493.98,423.93 L494.67,423.52 L495.34,423.09 L495.97,422.63 L496.57,422.16 L497.14,421.66 L497.68,421.14 L498.20,420.61 L498.69,420.05 L499.15,419.48 L499.59,418.90 L500.02,418.30 L500.42,417.69 L500.81,417.06 L501.18,416.43 L501.54,415.78 L501.89,415.12 L502.22,414.46 L502.55,413.79 L502.87,413.11 L503.19,412.42 L503.50,411.74 L503.81,411.04 L504.11,410.35 L504.42,409.65 L504.73,408.96 L505.04,408.26 L505.34,407.56 L505.65,406.86 L505.95,406.15 L506.25,405.45 L506.55,404.74 L506.85,404.03 L507.14,403.32 L507.43,402.61 L507.71,401.90 L507.99,401.18 L508.27,400.47 L508.53,399.75 L508.80,399.03 L509.06,398.31 L509.31,397.59 L509.56,396.87 L509.80,396.14 L510.04,395.42 L510.27,394.69 L510.50,393.96 L510.73,393.23 L510.95,392.50 L511.16,391.77 L511.38,391.04 L511.58,390.31 L511.79,389.57 L511.99,388.84 L512.18,388.10 L512.38,387.36 L512.57,386.63 L512.75,385.89 L512.93,385.15 L513.11,384.41 L513.29,383.67 L513.46,382.93 L513.63,382.19 L513.80,381.44 L513.96,380.70 L514.12,379.96 L514.28,379.21 L514.44,378.47 L514.59,377.72 L514.75,376.97 L514.90,376.23 L515.04,375.48 L515.19,374.74 L515.33,373.99 L515.48,373.24 L515.62,372.49 L515.76,371.75 L515.90,371.00 L516.03,370.25 L516.17,369.50 L516.30,368.75 L516.44,368.01 L516.57,367.26 L516.70,366.51 L516.83,365.76 L516.96,365.01 L517.09,364.26 L517.22,363.51 L517.34,362.76 L517.47,362.02 L517.59,361.27 L517.72,360.52 L517.84,359.77 L517.96,359.02 L518.08,358.27 L518.20,357.52 L518.32,356.77 L518.44,356.02 L518.56,355.27 L518.68,354.52 L518.80,353.77 L518.91,353.02 L519.03,352.27 L519.15,351.52 L519.26,350.77 L519.37,350.02 L519.49,349.27 L519.60,348.52 L519.71,347.77 L519.83,347.01 L519.94,346.26 L520.05,345.51 L520.16,344.76 L520.27,344.01 L520.38,343.26 L520.49,342.51 L520.60,341.75 L520.71,341.00 L520.82,340.25 L520.93,339.50 L521.04,338.74 L521.15,337.99 L521.26,337.24 L521.37,336.49 L521.48,335.73 L521.59,334.98 L521.69,334.23 L521.80,333.47 L521.91,332.72 L522.02,331.97 L522.13,331.21 L522.24,330.46 L522.35,329.70 L522.46,328.95 L522.57,328.19 L522.68,327.44 L522.79,326.68 L522.90,325.93 L523.01,325.17 L523.12,324.42 L523.23,323.66 L523.34,322.91 L523.45,322.15 L523.56,321.40 L523.67,320.64 L523.79,319.88 L523.90,319.13 L524.01,318.37 L524.13,317.61 L524.24,316.86 L524.36,316.10 L524.47,315.34 L524.59,314.58 L524.71,313.83 L524.82,313.07 L524.94,312.31 L525.06,311.55 L525.18,310.79 L525.30,310.03 L525.42,309.27 L525.54,308.51 L525.67,307.76 L525.79,307.00 L525.91,306.24 L526.05,305.48 L526.18,304.72 L526.33,303.97 L526.49,303.21 L526.66,302.47 L526.85,301.72 L527.06,300.98 L527.30,300.25 L527.55,299.52 L527.84,298.80 L528.15,298.09 L528.49,297.38 L528.87,296.68 L529.29,296.00 L529.74,295.32 L530.23,294.69 L530.75,294.11 L531.29,293.60 L531.85,293.20 L532.42,292.92 L533.01,292.79 L533.60,292.82 L534.19,293.00 L534.77,293.32 L535.33,293.76 L535.87,294.28 L536.37,294.88 L536.83,295.53 L537.24,296.22 L537.59,296.93 L537.90,297.65 L538.16,298.39 L538.39,299.15 L538.57,299.91 L538.72,300.69 L538.85,301.48 L538.95,302.28 L539.03,303.08 L539.09,303.88 L539.14,304.68 L539.18,305.49 L539.22,306.29 L539.26,307.09 L539.30,307.88 L539.35,308.67 L539.40,309.44 L539.46,310.22 L539.52,310.98 L539.59,311.75 L539.66,312.50 L539.74,313.26 L539.82,314.01 L539.90,314.75 L539.98,315.50 L540.06,316.24 L540.15,316.98 L540.23,317.72 L540.31,318.45 L540.40,319.19 L540.48,319.93 L540.56,320.66 L540.63,321.40 L540.71,322.14 L540.78,322.88 L540.85,323.63 L540.91,324.37 L540.97,325.12 L541.02,325.87 L541.07,326.63 L541.11,327.39 L541.16,328.15 L541.19,328.91 L541.23,329.67 L541.26,330.44 L541.28,331.21 L541.31,331.98 L541.33,332.75 L541.35,333.52 L541.37,334.30 L541.39,335.07 L541.40,335.85 L541.41,336.62 L541.42,337.40 L541.44,338.17 L541.45,338.95 L541.46,339.72 L541.47,340.50 L541.48,341.27 L541.49,342.04 L541.50,342.81 L541.51,343.58 L541.52,344.35 L541.53,345.12 L541.54,345.89 L541.56,346.66 L541.57,347.42 L541.58,348.19 L541.60,348.95 L541.61,349.72 L541.63,350.48 L541.64,351.24 L541.66,352.01 L541.68,352.77 L541.69,353.53 L541.71,354.29 L541.73,355.04 L541.75,355.80 L541.76,356.56 L541.78,357.32 L541.80,358.07 L541.82,358.83 L541.84,359.59 L541.86,360.34 L541.88,361.10 L541.90,361.85 L541.92,362.61 L541.95,363.36 L541.97,364.11 L541.99,364.87 L542.01,365.62 L542.04,366.37 L542.06,367.12 L542.08,367.88 L542.11,368.63 L542.13,369.38 L542.15,370.13 L542.18,370.88 L542.20,371.64 L542.23,372.39 L542.26,373.14 L542.28,373.89 L542.31,374.64 L542.33,375.39 L542.36,376.14 L542.39,376.90 L542.42,377.65 L542.44,378.40 L542.47,379.15 L542.50,379.91 L542.53,380.66 L542.56,381.41 L542.58,382.16 L542.61,382.92 L542.64,383.67 L542.67,384.43 L542.70,385.18 L542.73,385.94 L542.76,386.69 L542.79,387.45 L542.82,388.20 L542.85,388.96 L542.88,389.72 L542.91,390.48 L542.94,391.23 L542.98,391.99 L543.01,392.75 L543.04,393.51 L543.07,394.27 L543.10,395.04 L543.14,395.80 L543.17,396.56 L543.20,397.32 L543.24,398.08 L543.27,398.85 L543.31,399.61 L543.35,400.37 L543.38,401.14 L543.42,401.90 L543.46,402.67 L543.50,403.43 L543.54,404.20 L543.58,404.96 L543.62,405.73 L543.66,406.49 L543.70,407.26 L543.75,408.03 L543.79,408.79 L543.84,409.56 L543.88,410.33 L543.93,411.09 L543.98,411.86 L544.03,412.63 L544.08,413.39 L544.14,414.16 L544.19,414.93 L544.25,415.69 L544.30,416.46 L544.36,417.23 L544.42,417.99 L544.48,418.76 L544.54,419.53 L544.61,420.29 L544.67,421.06 L544.74,421.82 L544.81,422.59 L544.88,423.35 L544.95,424.12 L545.02,424.88 L545.10,425.65 L545.18,426.41 L545.25,427.18 L545.33,427.94 L545.42,428.70 L545.50,429.47 L545.59,430.23 L545.68,430.99 L545.77,431.75 L545.86,432.51 L545.95,433.28 L546.05,434.04 L546.15,434.80 L546.25,435.56 L546.35,436.31 L546.46,437.07 L546.57,437.83 L546.68,438.59 L546.79,439.34 L546.91,440.10 L547.02,440.86 L547.14,441.61 L547.26,442.36 L547.39,443.12 L547.52,443.87 L547.65,444.62 L547.78,445.37 L547.91,446.12 L548.05,446.87 L548.19,447.62 L548.34,448.37 L548.48,449.12 L548.63,449.86 L548.78,450.61 L548.94,451.35 L549.10,452.10 L549.26,452.84 L549.42,453.58 L549.59,454.32 L549.76,455.06 L549.93,455.80 L550.11,456.54 L550.29,457.27 L550.47,458.01 L550.66,458.74 L550.85,459.47 L551.04,460.21 L551.24,460.94 L551.44,461.67 L551.64,462.40 L551.84,463.12 L552.05,463.85 L552.27,464.58 L552.48,465.30 L552.71,466.02 L552.93,466.74 L553.16,467.46 L553.39,468.18 L553.62,468.90 L553.86,469.61 L554.11,470.33 L554.35,471.04 L554.60,471.75 L554.86,472.46 L555.12,473.17 L555.38,473.88 L555.65,474.59 L555.92,475.29 L556.19,475.99 L556.47,476.69 L556.75,477.39 L557.04,478.09 L557.33,478.79 L557.63,479.48 L557.93,480.18 L558.23,480.87 L558.54,481.56 L558.85,482.25 L559.17,482.93 L559.49,483.62 L559.82,484.30 L560.15,484.98 L560.48,485.66 L560.82,486.34 L561.17,487.01 L561.52,487.69 L561.87,488.36 L562.23,489.03 L562.59,489.70 L562.96,490.37 L563.34,491.03 L563.71,491.69 L564.10,492.35 L564.49,493.01 L564.88,493.67 L565.28,494.32 L565.68,494.97 L566.09,495.62 L566.50,496.27 L566.92,496.91 L567.35,497.55 L567.78,498.18 L568.22,498.81 L568.66,499.43 L569.11,500.05 L569.57,500.67 L570.03,501.27 L570.50,501.88 L570.97,502.47 L571.45,503.06 L571.94,503.64 L572.44,504.22 L572.94,504.79 L573.45,505.35 L573.97,505.90 L574.49,506.44 L575.02,506.98 L575.56,507.50 L576.11,508.02 L576.66,508.53 L577.22,509.02 L577.79,509.51 L578.37,509.99 L578.96,510.46 L579.56,510.91 L580.16,511.36 L580.77,511.79 L581.39,512.21 L582.02,512.62 L582.66,513.01 L583.31,513.40 L583.97,513.77 L584.63,514.12 L585.31,514.47 L586.00,514.80 L586.69,515.11 L587.39,515.41 L588.10,515.70 L588.82,515.97 L589.55,516.23 L590.28,516.47 L591.02,516.71 L591.77,516.92 L592.52,517.12 L593.28,517.31 L594.04,517.48 L594.81,517.64 L595.58,517.79 L596.35,517.92 L597.13,518.03 L597.91,518.14 L598.69,518.22 L599.48,518.30 L600.26,518.35 L601.05,518.40 L601.84,518.43 L602.63,518.44 L603.41,518.44 L604.20,518.42 L604.99,518.39 L605.77,518.35 L606.55,518.29 L607.33,518.22 L608.11,518.13 L608.89,518.02 L609.66,517.90 L610.42,517.77 L611.18,517.62 L611.94,517.46 L612.69,517.28 L613.44,517.09 L614.18,516.88 L614.91,516.65 L615.64,516.41 L616.36,516.16 L617.07,515.89 L617.77,515.61 L618.47,515.31 L619.15,514.99 L619.82,514.66 L620.49,514.32 L621.14,513.96 L621.79,513.58 L622.43,513.19 L623.05,512.79 L623.67,512.38 L624.28,511.95 L624.88,511.51 L625.47,511.06 L626.06,510.59 L626.63,510.12 L627.20,509.63 L627.76,509.14 L628.32,508.63 L628.87,508.12 L629.41,507.60 L629.94,507.07 L630.47,506.53 L631.00,505.99 L631.51,505.44 L632.03,504.88 L632.53,504.32 L633.04,503.75 L633.54,503.18 L634.03,502.61 L634.52,502.03 L635.01,501.44 L635.49,500.86 L635.97,500.27 L636.45,499.68 L636.93,499.08 L637.40,498.48 L637.88,497.89 L638.36,497.29 L638.83,496.68 L639.31,496.08 L639.80,495.47 L640.28,494.86 L640.77,494.25 L641.26,493.64 L641.76,493.03 L642.27,492.42 L642.78,491.81 L643.30,491.20 L643.84,490.60 L644.38,490.03 L644.95,489.49 L645.53,489.00 L646.14,488.55 L646.78,488.16 L647.45,487.85 L648.14,487.60 L648.86,487.42 L649.59,487.31 L650.34,487.26 L651.10,487.27 L651.86,487.35 L652.62,487.47 L653.38,487.65 L654.12,487.88 L654.85,488.16 L655.56,488.48 L656.25,488.85 L656.91,489.25 L657.53,489.69 L658.11,490.17 L658.66,490.68 L659.17,491.22 L659.65,491.79 L660.11,492.38 L660.54,492.99 L660.95,493.62 L661.35,494.26 L661.73,494.92 L662.10,495.58 L662.47,496.26 L662.83,496.93 L663.20,497.61 L663.57,498.29 L663.95,498.96 L664.33,499.63 L664.71,500.30 L665.10,500.97 L665.50,501.64 L665.90,502.30 L666.30,502.96 L666.71,503.61 L667.12,504.27 L667.54,504.92 L667.97,505.56 L668.40,506.21 L668.83,506.85 L669.27,507.48 L669.72,508.11 L670.17,508.74 L670.62,509.36 L671.09,509.98 L671.55,510.59 L672.02,511.19 L672.50,511.79 L672.99,512.39 L673.47,512.98 L673.97,513.56 L674.47,514.14 L674.97,514.71 L675.49,515.28 L676.00,515.83 L676.53,516.38 L677.06,516.93 L677.59,517.47 L678.13,518.00 L678.68,518.52 L679.23,519.03 L679.79,519.54 L680.36,520.04 L680.93,520.53 L681.50,521.01 L682.09,521.48 L682.68,521.95 L683.27,522.40 L683.88,522.85 L684.49,523.28 L685.10,523.71 L685.72,524.13 L686.35,524.54 L686.99,524.93 L687.63,525.32 L688.28,525.70 L688.93,526.07 L689.59,526.42 L690.26,526.77 L690.93,527.11 L691.61,527.43 L692.30,527.75 L692.99,528.06 L693.68,528.36 L694.38,528.65 L695.09,528.93 L695.80,529.21 L696.51,529.47 L697.23,529.73 L697.95,529.97 L698.68,530.21 L699.41,530.45 L700.15,530.67 L700.88,530.89 L701.63,531.09 L702.37,531.29 L703.12,531.49 L703.87,531.67 L704.62,531.85 L705.38,532.03 L706.13,532.19 L706.89,532.35 L707.66,532.51 L708.42,532.65 L709.19,532.79 L709.95,532.93 L710.72,533.06 L711.49,533.18 L712.26,533.30 L713.03,533.41 L713.80,533.52 L714.58,533.62 L715.35,533.72 L716.12,533.81 L716.89,533.90 L717.67,533.98 L718.44,534.06 L719.21,534.14 L719.98,534.21 L720.75,534.28 L721.52,534.34 L722.28,534.40 L723.05,534.46 L723.81,534.51 L724.58,534.56 L725.34,534.60 L726.10,534.65 L726.85,534.69 L727.61,534.73 L728.36,534.76 L729.10,534.80 L729.85,534.83 L730.59,534.86 L731.33,534.89 L732.07,534.91 L732.80,534.94 L733.52,534.96 L734.25,534.98 L735.00,535.00 L735,536 L75,536 Z" fill="none" stroke="#2a0a20" stroke-opacity="0.22" stroke-width="0.8"/>
<line x1="74.3" y1="534.9" x2="735.7" y2="534.9" stroke="#151515" stroke-width="1.7"/>
<line x1="75.00" y1="535" x2="75.00" y2="549.5" stroke="#1e1e1e" stroke-width="1.3"/><line x1="89.67" y1="535" x2="89.67" y2="540" stroke="#555" stroke-width="1.0"/><line x1="104.33" y1="535" x2="104.33" y2="540" stroke="#555" stroke-width="1.0"/><line x1="119.00" y1="535" x2="119.00" y2="540" stroke="#555" stroke-width="1.0"/><line x1="133.67" y1="535" x2="133.67" y2="540" stroke="#555" stroke-width="1.0"/><line x1="148.33" y1="535" x2="148.33" y2="549.5" stroke="#1e1e1e" stroke-width="1.3"/><line x1="163.00" y1="535" x2="163.00" y2="540" stroke="#555" stroke-width="1.0"/><line x1="177.67" y1="535" x2="177.67" y2="540" stroke="#555" stroke-width="1.0"/><line x1="192.33" y1="535" x2="192.33" y2="540" stroke="#555" stroke-width="1.0"/><line x1="207.00" y1="535" x2="207.00" y2="540" stroke="#555" stroke-width="1.0"/><line x1="221.67" y1="535" x2="221.67" y2="549.5" stroke="#1e1e1e" stroke-width="1.3"/><line x1="236.33" y1="535" x2="236.33" y2="540" stroke="#555" stroke-width="1.0"/><line x1="251.00" y1="535" x2="251.00" y2="540" stroke="#555" stroke-width="1.0"/><line x1="265.67" y1="535" x2="265.67" y2="540" stroke="#555" stroke-width="1.0"/><line x1="280.33" y1="535" x2="280.33" y2="540" stroke="#555" stroke-width="1.0"/><line x1="295.00" y1="535" x2="295.00" y2="549.5" stroke="#1e1e1e" stroke-width="1.3"/><line x1="309.67" y1="535" x2="309.67" y2="540" stroke="#555" stroke-width="1.0"/><line x1="324.33" y1="535" x2="324.33" y2="540" stroke="#555" stroke-width="1.0"/><line x1="339.00" y1="535" x2="339.00" y2="540" stroke="#555" stroke-width="1.0"/><line x1="353.67" y1="535" x2="353.67" y2="540" stroke="#555" stroke-width="1.0"/><line x1="368.33" y1="535" x2="368.33" y2="549.5" stroke="#1e1e1e" stroke-width="1.3"/><line x1="383.00" y1="535" x2="383.00" y2="540" stroke="#555" stroke-width="1.0"/><line x1="397.67" y1="535" x2="397.67" y2="540" stroke="#555" stroke-width="1.0"/><line x1="412.33" y1="535" x2="412.33" y2="540" stroke="#555" stroke-width="1.0"/><line x1="427.00" y1="535" x2="427.00" y2="540" stroke="#555" stroke-width="1.0"/><line x1="441.67" y1="535" x2="441.67" y2="549.5" stroke="#1e1e1e" stroke-width="1.3"/><line x1="456.33" y1="535" x2="456.33" y2="540" stroke="#555" stroke-width="1.0"/><line x1="471.00" y1="535" x2="471.00" y2="540" stroke="#555" stroke-width="1.0"/><line x1="485.67" y1="535" x2="485.67" y2="540" stroke="#555" stroke-width="1.0"/><line x1="500.33" y1="535" x2="500.33" y2="540" stroke="#555" stroke-width="1.0"/><line x1="515.00" y1="535" x2="515.00" y2="549.5" stroke="#1e1e1e" stroke-width="1.3"/><line x1="529.67" y1="535" x2="529.67" y2="540" stroke="#555" stroke-width="1.0"/><line x1="544.33" y1="535" x2="544.33" y2="540" stroke="#555" stroke-width="1.0"/><line x1="559.00" y1="535" x2="559.00" y2="540" stroke="#555" stroke-width="1.0"/><line x1="573.67" y1="535" x2="573.67" y2="540" stroke="#555" stroke-width="1.0"/><line x1="588.33" y1="535" x2="588.33" y2="549.5" stroke="#1e1e1e" stroke-width="1.3"/><line x1="603.00" y1="535" x2="603.00" y2="540" stroke="#555" stroke-width="1.0"/><line x1="617.67" y1="535" x2="617.67" y2="540" stroke="#555" stroke-width="1.0"/><line x1="632.33" y1="535" x2="632.33" y2="540" stroke="#555" stroke-width="1.0"/><line x1="647.00" y1="535" x2="647.00" y2="540" stroke="#555" stroke-width="1.0"/><line x1="661.67" y1="535" x2="661.67" y2="549.5" stroke="#1e1e1e" stroke-width="1.3"/><line x1="676.33" y1="535" x2="676.33" y2="540" stroke="#555" stroke-width="1.0"/><line x1="691.00" y1="535" x2="691.00" y2="540" stroke="#555" stroke-width="1.0"/><line x1="705.67" y1="535" x2="705.67" y2="540" stroke="#555" stroke-width="1.0"/><line x1="720.33" y1="535" x2="720.33" y2="540" stroke="#555" stroke-width="1.0"/><line x1="735.00" y1="535" x2="735.00" y2="549.5" stroke="#1e1e1e" stroke-width="1.3"/>
<g font-family="Liberation Sans" font-weight="bold" font-size="12.3" fill="#1c1c1c"><text x="75.00" y="567.2" text-anchor="middle">350</text><text x="148.33" y="567.2" text-anchor="middle">400</text><text x="221.67" y="567.2" text-anchor="middle">450</text><text x="295.00" y="567.2" text-anchor="middle">500</text><text x="368.33" y="567.2" text-anchor="middle">550</text><text x="441.67" y="567.2" text-anchor="middle">600</text><text x="515.00" y="567.2" text-anchor="middle">650</text><text x="588.33" y="567.2" text-anchor="middle">700</text><text x="661.67" y="567.2" text-anchor="middle">750</text><text x="735.00" y="567.2" text-anchor="middle">800</text><text x="65.5" y="298.10" text-anchor="end">1</text><text x="65.5" y="346.40" text-anchor="end">0,8</text><text x="65.5" y="394.70" text-anchor="end">0,6</text><text x="65.5" y="443.00" text-anchor="end">0,4</text><text x="65.5" y="491.30" text-anchor="end">0,2</text><text x="65.5" y="539.60" text-anchor="end">0</text></g>
<g id="logo" fill="none" stroke="#3a3a3a" stroke-width="4.25" transform="translate(0,238) skewX(-9.4) translate(0,-238)">
<path d="M74.31,206.8 C71.85,202.6 66.93,200.7 61.38,200.7 C54.00,200.7 49.32,204.2 49.32,209 C49.32,214.8 55.84,216.8 62.62,218.5 C70.00,220.3 75.55,222.8 75.55,228.2 C75.55,233.5 70.00,236.8 62.00,236.8 C55.84,236.8 51.16,234.4 48.95,230.5"/><path d="M84.80,218.75 H120.20 A17.7,18.05 0 1 0 117.00,229.10"/><path d="M134.15,238 V199.5 M134.15,214 C135.6,205.5 141,200.8 149.3,200.8"/><path d="M160,238 V199.5"/><circle cx="160.3" cy="187.9" r="3.3" fill="#3a3a3a" stroke="none"/><path d="M174.80,218.75 H209.40 A17.3,18.05 0 1 0 206.27,229.10"/><path d="M245.26,206.8 C242.91,202.6 238.20,200.7 232.91,200.7 C225.86,200.7 221.39,204.2 221.39,209 C221.39,214.8 227.62,216.8 234.09,218.5 C241.14,220.3 246.44,222.8 246.44,228.2 C246.44,233.5 241.14,236.8 233.50,236.8 C227.62,236.8 223.15,234.4 221.04,230.5"/>
</g>
<polygon fill="#3a3a3a" points="262.75,182.5 274.4,182.5 280,192.25 288.6,182.5 301.4,182.5 285,200.9 295,220 281.9,220 275.9,209.9 268.75,220 255.6,220 271.75,202"/>
<text x="306.2" y="213" font-family="Liberation Sans" font-weight="bold" font-style="italic" font-size="40.8" fill="#3a3a3a" stroke="#3a3a3a" stroke-width="1.6" stroke-linejoin="round">PWR</text>
<rect x="303.4" y="216.5" width="98.8" height="4.4" fill="#3a3a3a"/>
</svg>
<div class="t" id="rl" style="left:47.5px;top:255.2px;font-size:13px;color:#444;transform:scaleX(0.975)">Relative Lichtintensität</div>
<div class="t" id="bs" style="left:531px;top:215px;font-size:27.4px;color:#3a3a3a;transform:scaleX(1.053)">Blütespektrum</div>
<div class="t" id="wl" style="left:638.4px;top:575px;font-size:12px;color:#4a4a4a;transform:scaleX(1.015)">Wellenlänge in nm</div>
</body></html>
